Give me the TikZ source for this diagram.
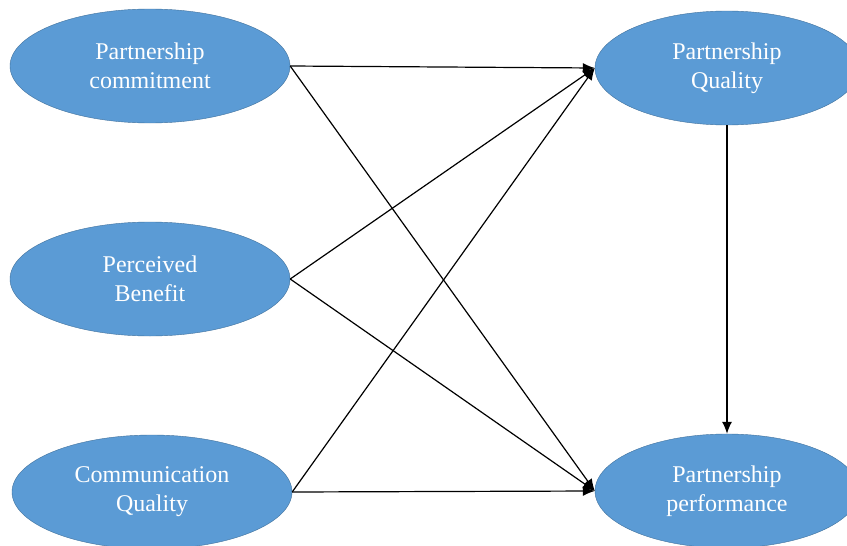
\documentclass[tikz,border=0pt]{standalone}
\usepackage{fontspec}
\setmainfont{Liberation Serif}
\usetikzlibrary{shapes.geometric, arrows.meta, positioning}
\definecolor{ovalblue}{RGB}{91,155,213}
\definecolor{ovaledge}{RGB}{65,113,156}
\tikzstyle{factor} = [ellipse, minimum width=280pt, minimum height=114pt, inner sep=0pt, align=center, text=white, draw=ovaledge, fill=ovalblue, font=\fontsize{24}{29}\selectfont]
\tikzstyle{arrow} = [line width=1.2pt,-{Latex[length=12pt,width=10pt]}]
\begin{document}
\begin{tikzpicture}[node distance=213pt, x=1pt, y=1pt]
\useasboundingbox (0,0) rectangle (847,-546);
\clip (0,0) rectangle (847,-546);

\node (commit) [factor] at (150,-66) {Partnership\\commitment};
\node (benefit) [factor, below of=commit] {Perceived\\Benefit};
\node (comm) [factor, below of=benefit, xshift=2pt] {Communication\\Quality};

\node (quality) [factor, minimum width=264pt] at (727,-68) {Partnership\\Quality};
\node (perf) [factor, minimum width=264pt] at (727,-491) {Partnership\\performance};

\draw [arrow] (commit.east) -- (quality.west);
\draw [arrow] (commit.east) -- (perf.west);

\draw [arrow] (benefit.east) -- (quality.west);
\draw [arrow] (benefit.east) -- (perf.west);

\draw [arrow] (comm.east) -- (quality.west);
\draw [arrow] (comm.east) -- (perf.west);

\draw [arrow] (quality.south) -- (perf.north);

\end{tikzpicture}
\end{document}
